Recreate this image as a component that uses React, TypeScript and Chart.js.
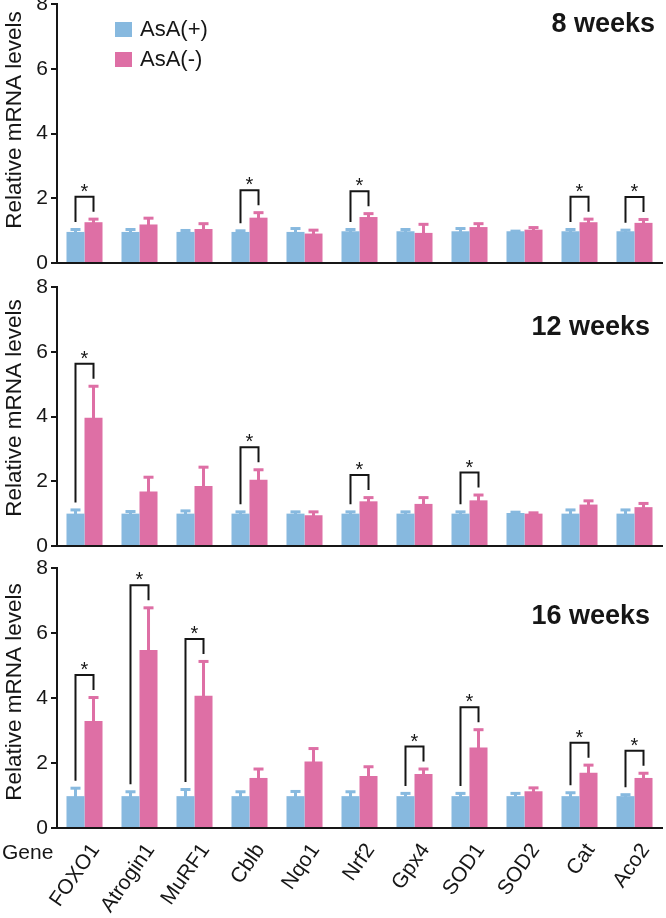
import React, { useEffect, useRef } from 'react';
import { Chart, registerables } from 'chart.js';
Chart.register(...registerables);

const genes = ['FOXO1', 'Atrogin1', 'MuRF1', 'Cblb', 'Nqo1', 'Nrf2', 'Gpx4', 'SOD1', 'SOD2', 'Cat', 'Aco2'];
const seriesNames = ['AsA(+)', 'AsA(-)'];
const panelTitles = ['8 weeks', '12 weeks', '16 weeks'];
const yTitle = 'Relative mRNA levels';
const xTitle = 'Gene';

const w8Plus = [0.96, 0.96, 0.96, 0.96, 0.96, 0.98, 0.98, 0.98, 0.98, 0.98, 0.98];
const w8PlusErr = [0.09, 0.09, 0.06, 0.05, 0.12, 0.07, 0.07, 0.1, 0.02, 0.07, 0.05];
const w8Minus = [1.26, 1.19, 1.05, 1.4, 0.91, 1.42, 0.93, 1.11, 1.03, 1.26, 1.24];
const w8MinusErr = [0.11, 0.21, 0.18, 0.17, 0.12, 0.12, 0.28, 0.12, 0.08, 0.11, 0.12];
const w8Sig = [1, 0, 0, 1, 0, 1, 0, 0, 0, 1, 1];

const w12Plus = [1.0, 1.0, 1.0, 1.0, 1.0, 1.0, 1.0, 1.0, 1.02, 1.0, 1.0];
const w12PlusErr = [0.13, 0.08, 0.1, 0.07, 0.07, 0.07, 0.07, 0.07, 0.04, 0.13, 0.13];
const w12Minus = [3.96, 1.68, 1.85, 2.05, 0.95, 1.38, 1.3, 1.41, 1.0, 1.28, 1.2];
const w12MinusErr = [0.99, 0.46, 0.6, 0.32, 0.12, 0.13, 0.21, 0.18, 0.04, 0.13, 0.13];
const w12Sig = [1, 0, 0, 1, 0, 1, 0, 1, 0, 0, 0];

const w16Plus = [0.98, 0.98, 0.98, 0.98, 0.98, 0.98, 0.98, 0.98, 0.98, 0.98, 0.98];
const w16PlusErr = [0.26, 0.15, 0.22, 0.15, 0.16, 0.15, 0.1, 0.1, 0.1, 0.12, 0.06];
const w16Minus = [3.29, 5.48, 4.07, 1.54, 2.05, 1.6, 1.66, 2.48, 1.13, 1.7, 1.54];
const w16MinusErr = [0.74, 1.31, 1.07, 0.29, 0.41, 0.3, 0.17, 0.56, 0.12, 0.25, 0.16];
const w16Sig = [1, 1, 1, 0, 0, 0, 1, 1, 0, 1, 1];

const yMin = 0;
const yMax = 8;
const yStep = 2;

const BLUE = '#87B9DF';
const PINK = '#DE6FA5';
const INK = '#161616';
const FONT = "'Liberation Sans', Arial, Helvetica, sans-serif";

type Panel = {
  title: string;
  plus: number[];
  plusErr: number[];
  minus: number[];
  minusErr: number[];
  sig: number[];
  top: number;
  height: number;
  xHeight: number;
  showLabels: boolean;
  legend: boolean;
  titleDy: number;
  titleRight: number;
  yTitleDy: number;
};

const panels: Panel[] = [
  { title: panelTitles[0], plus: w8Plus, plusErr: w8PlusErr, minus: w8Minus, minusErr: w8MinusErr, sig: w8Sig,
    top: -10, height: 293, xHeight: 20, showLabels: false, legend: true, titleDy: 21, titleRight: 655, yTitleDy: 116 },
  { title: panelTitles[1], plus: w12Plus, plusErr: w12PlusErr, minus: w12Minus, minusErr: w12MinusErr, sig: w12Sig,
    top: 273, height: 293, xHeight: 20, showLabels: false, legend: false, titleDy: 41, titleRight: 650, yTitleDy: 121 },
  { title: panelTitles[2], plus: w16Plus, plusErr: w16PlusErr, minus: w16Minus, minusErr: w16MinusErr, sig: w16Sig,
    top: 554, height: 364, xHeight: 90, showLabels: true, legend: false, titleDy: 49, titleRight: 650, yTitleDy: 124 },
];

function overlayPlugin(panel: Panel) {
  return {
    id: 'overlay',
    afterDatasetsDraw(chart: any) {
      const ctx = chart.ctx as CanvasRenderingContext2D;
      const ys = chart.scales.y;
      const ca = chart.chartArea;
      const sets: [number[], number[], string][] = [
        [panel.plus, panel.plusErr, BLUE],
        [panel.minus, panel.minusErr, PINK],
      ];
      const tops: number[][] = [[], []];
      ctx.save();
      sets.forEach(([vals, errs, color], di) => {
        const meta = chart.getDatasetMeta(di);
        meta.data.forEach((el: any, i: number) => {
          const x = el.x;
          const y0 = ys.getPixelForValue(vals[i]);
          const y1 = ys.getPixelForValue(vals[i] + errs[i]);
          ctx.fillStyle = color;
          ctx.fillRect(x - 1.5, y1, 3, y0 - y1 + 1);
          ctx.fillRect(x - 5, y1 - 1, 10, 3);
          tops[di][i] = y1;
        });
      });
      // significance brackets
      const m0 = chart.getDatasetMeta(0);
      const m1 = chart.getDatasetMeta(1);
      ctx.strokeStyle = INK;
      ctx.lineWidth = 2;
      ctx.fillStyle = INK;
      ctx.font = `20px ${FONT}`;
      ctx.textAlign = 'center';
      ctx.textBaseline = 'alphabetic';
      panel.sig.forEach((s, i) => {
        if (!s) return;
        const xl = m0.data[i].x;
        const xr = m1.data[i].x;
        const lb = tops[0][i] - 7;
        const rb = tops[1][i] - 7;
        const bt = Math.min(lb, rb) - 15;
        ctx.beginPath();
        ctx.moveTo(xl, lb);
        ctx.lineTo(xl, bt);
        ctx.lineTo(xr, bt);
        ctx.lineTo(xr, rb);
        ctx.stroke();
        ctx.fillText('*', (xl + xr) / 2, bt + 1);
      });
      // panel title
      ctx.font = `bold 27px ${FONT}`;
      ctx.textAlign = 'right';
      ctx.textBaseline = 'middle';
      ctx.fillText(panel.title, panel.titleRight, ca.top + panel.titleDy);
      // y axis title
      ctx.save();
      ctx.translate(15, ca.top + panel.yTitleDy);
      ctx.rotate(-Math.PI / 2);
      ctx.font = `22.5px ${FONT}`;
      ctx.textAlign = 'center';
      ctx.textBaseline = 'middle';
      ctx.fillText(yTitle, 0, 0);
      ctx.restore();
      // legend
      if (panel.legend) {
        const colors = [BLUE, PINK];
        ctx.font = `22px ${FONT}`;
        ctx.textAlign = 'left';
        ctx.textBaseline = 'middle';
        seriesNames.forEach((name, k) => {
          const sy = ca.top + 18 + k * 30;
          ctx.fillStyle = colors[k];
          ctx.fillRect(ca.left + 58, sy, 17, 15);
          ctx.fillStyle = INK;
          ctx.fillText(name, ca.left + 83, sy + 8);
        });
      }
      if (panel.showLabels) {
        ctx.font = `21px ${FONT}`;
        ctx.textAlign = 'left';
        ctx.textBaseline = 'middle';
        ctx.fillStyle = INK;
        ctx.fillText(xTitle, 2, ca.bottom + 25);
      }
      ctx.restore();
    },
  };
}

function PanelChart({ panel }: { panel: Panel }) {
  const ref = useRef<HTMLCanvasElement | null>(null);
  useEffect(() => {
    if (!ref.current) return;
    const chart = new Chart(ref.current, {
      type: 'bar',
      data: {
        labels: genes,
        datasets: [
          { label: seriesNames[0], data: panel.plus, backgroundColor: BLUE, borderWidth: 0, categoryPercentage: 0.655, barPercentage: 1.0 },
          { label: seriesNames[1], data: panel.minus, backgroundColor: PINK, borderWidth: 0, categoryPercentage: 0.655, barPercentage: 1.0 },
        ],
      },
      options: {
        animation: false,
        responsive: false,
        devicePixelRatio: 1,
        layout: { padding: { top: 14, right: 4, left: 0, bottom: 0 } },
        plugins: { legend: { display: false }, tooltip: { enabled: false }, title: { display: false } },
        scales: {
          x: {
            grid: { display: false, drawTicks: false },
            border: { display: true, color: INK, width: 2 },
            ticks: panel.showLabels
              ? { display: true, autoSkip: false, maxRotation: 55, minRotation: 55, color: INK, font: { size: 21, family: FONT }, padding: 11, labelOffset: 11 }
              : { display: false },
            afterFit: (s: any) => { s.height = panel.xHeight; s.paddingLeft = 0; s.paddingRight = 0; },
          },
          y: {
            min: yMin,
            max: yMax,
            ticks: { stepSize: yStep, color: INK, font: { size: 21, family: FONT }, padding: 3 },
            grid: { display: true, drawOnChartArea: false, drawTicks: true, tickLength: 6, color: INK, lineWidth: 2 },
            border: { display: true, color: INK, width: 2 },
            title: { display: false },
            afterFit: (s: any) => { s.width = 57; s.paddingTop = 0; s.paddingBottom = 0; },
          },
        },
      } as any,
      plugins: [overlayPlugin(panel)],
    });
    return () => chart.destroy();
  }, [panel]);
  return (
    <canvas
      ref={ref}
      width={666}
      height={panel.height}
      style={{ position: 'absolute', left: 0, top: panel.top, width: 666, height: panel.height }}
    />
  );
}

export default function App() {
  return (
    <div style={{ position: 'absolute', left: 0, top: 0, width: 666, height: 918, background: '#fff', overflow: 'hidden' }}>
      {panels.map((p, i) => (
        <PanelChart key={i} panel={p} />
      ))}
    </div>
  );
}
